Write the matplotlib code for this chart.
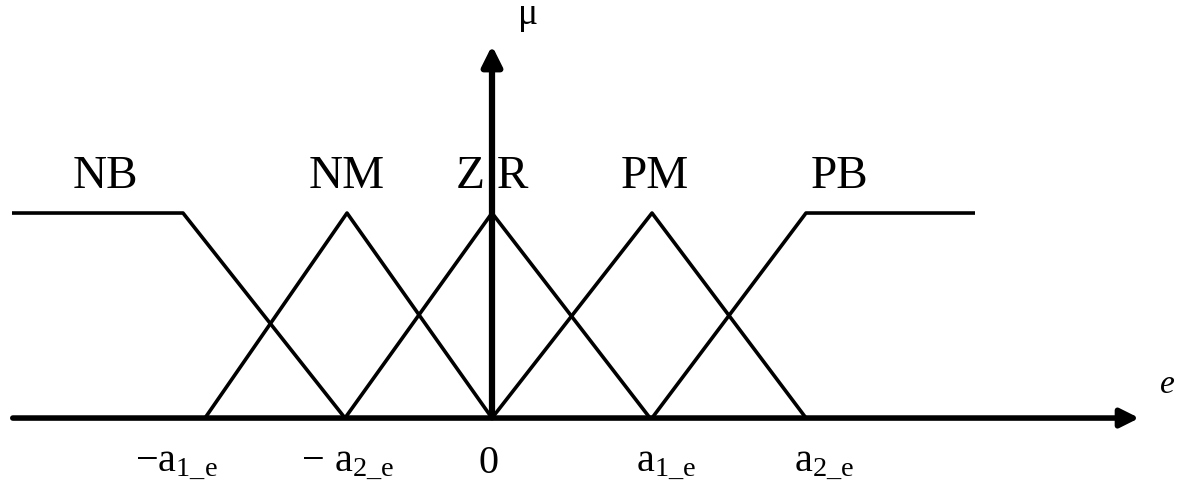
import matplotlib
matplotlib.use("Agg")
import matplotlib.pyplot as plt

plt.rcParams["mathtext.fontset"] = "custom"
plt.rcParams["mathtext.rm"] = "Liberation Serif"
plt.rcParams["mathtext.it"] = "Liberation Serif"

# membership functions: breakpoints on e axis and membership degrees
nb_x = [-480, -309, -147]
nb_mu = [1, 1, 0]
nm_x = [-287, -145, 0]
nm_mu = [0, 1, 0]
zr_x = [-147, 0, 158]
zr_mu = [0, 1, 0]
pm_x = [0, 160, 314]
pm_mu = [0, 1, 0]
pb_x = [160, 314, 483]
pb_mu = [0, 1, 1]

set_names = ["NB", "NM", "Z R", "PM", "PB"]
set_name_x = [-387, -145, 0, 163, 348]

tick_pos = [-316, -144, -4, 174, 332]
tick_labels = [r"$-\mathrm{a}_{1\_e}$", r"$-\ \mathrm{a}_{2\_e}$", "0",
               r"$\mathrm{a}_{1\_e}$", r"$\mathrm{a}_{2\_e}$"]

fig = plt.figure(figsize=(12.03, 4.98), dpi=100)
ax = fig.add_axes([0, 0, 1, 1])
ax.set_xlim(-492, 711)
ax.set_ylim(-0.39, 2.039)
ax.axis("off")

for xs, ys in [(nb_x, nb_mu), (nm_x, nm_mu), (zr_x, zr_mu), (pm_x, pm_mu), (pb_x, pb_mu)]:
    ax.plot(xs, ys, color="black", lw=2.6, solid_capstyle="butt")

# axes with arrows
ax.annotate("", xy=(650, 0), xytext=(-482, 0),
            arrowprops=dict(arrowstyle="-|>", lw=4, color="black", mutation_scale=28))
ax.annotate("", xy=(0, 1.83), xytext=(0, -0.01),
            arrowprops=dict(arrowstyle="-|>", lw=4.5, color="black", mutation_scale=30))

for name, x in zip(set_names, set_name_x):
    ax.text(x, 1.12, name, ha="center", va="baseline",
            family="Liberation Serif", fontsize=34)

for pos, lab in zip(tick_pos, tick_labels):
    ax.text(pos, -0.22, lab, ha="center", va="center",
            family="Liberation Serif", fontsize=29)

ax.text(35, 1.96, r"$\mu$", ha="center", va="center", fontsize=27)
ax.text(675, 0.16, "e", ha="center", va="center",
        family="Liberation Serif", fontsize=24, style="italic")

fig.savefig("out.png", dpi=100)
